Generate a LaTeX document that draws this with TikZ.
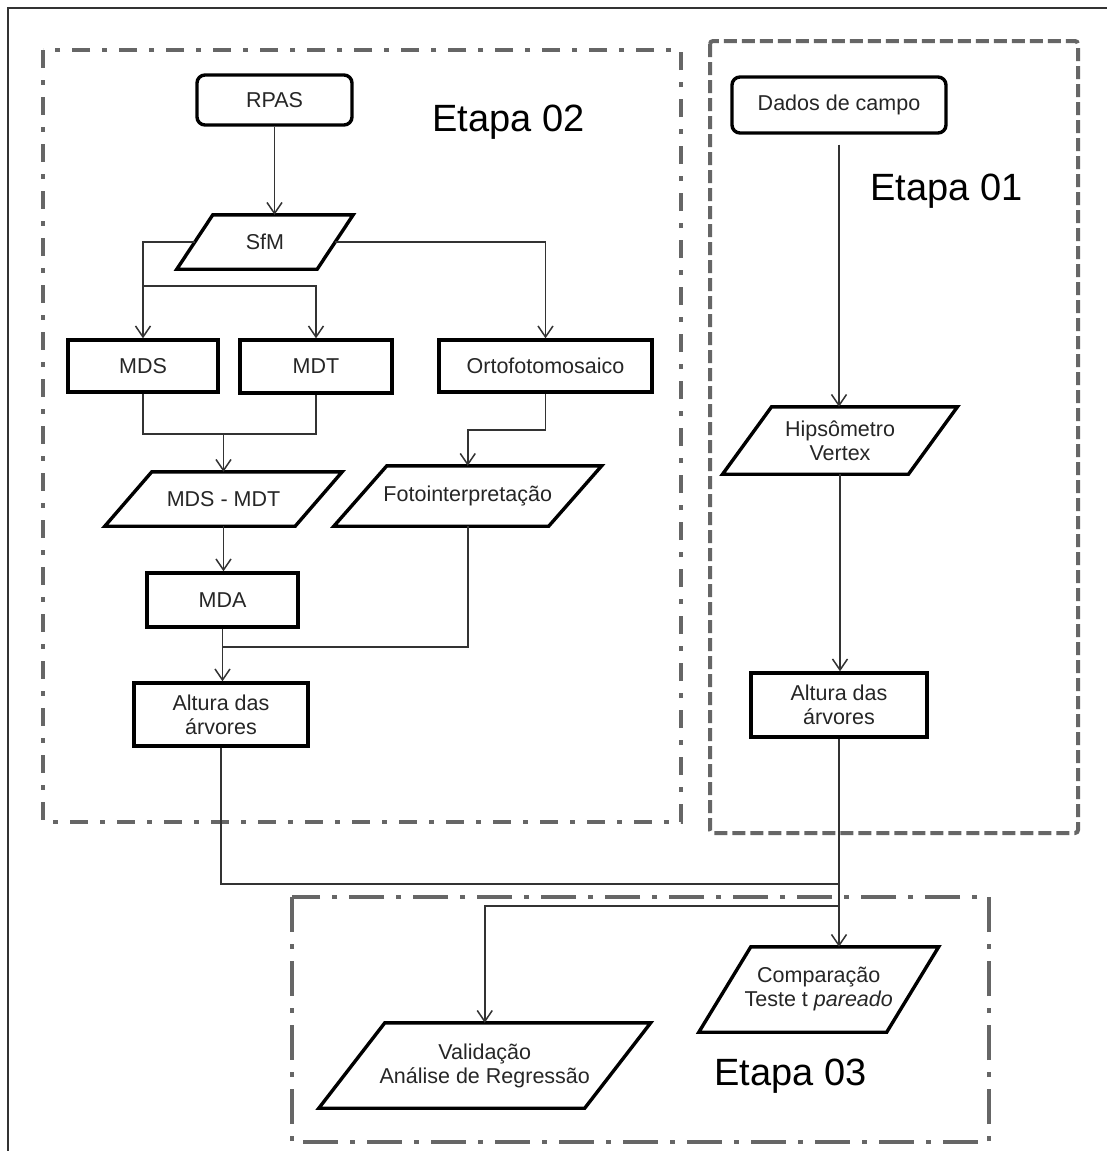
\documentclass[tikz,border=0pt]{standalone}
\usepackage{fontspec}
\setmainfont{Liberation Sans}
\usetikzlibrary{arrows.meta}
\begin{document}
\begin{tikzpicture}[x=1pt,y=-1pt,
  txt/.style={font=\fontsize{21.5}{24}\selectfont, text=black!85, align=center, inner sep=0pt},
  procbox/.style={txt, draw=black, line width=3.4pt, rectangle},
  roundbox/.style={procbox, rounded corners=8pt},
  paran/.style={txt, rectangle},
  parab/.style={draw=black, line width=3.4pt, line join=miter},
  conn/.style={draw=black!80, line width=1.5pt},
  arr/.style={conn, -{Straight Barb[length=11pt,width=15pt]}},
  etapa/.style={font=\fontsize{38}{40}\selectfont, anchor=base west, inner sep=0pt, text=black},
  frameA/.style={draw=black!60, line width=4pt, dash pattern=on 18pt off 12pt on 5pt off 12pt},
  frameB/.style={draw=black!60, line width=4pt, dash pattern=on 13pt off 5pt},
  frameC/.style={draw=black!60, line width=4pt, dash pattern=on 35pt off 12pt on 5pt off 12pt}
]
\useasboundingbox (0,0) rectangle (1107,1151);
\fill[white] (0,0) rectangle (1107,1151);

% outer frame
\draw[black!80, line width=2pt] (8,1170) -- (8,8) -- (1120,8);

% stage frames
\draw[frameA] (43,50) rectangle (681,822);
\draw[frameB, rounded corners=3pt] (710,41) rectangle (1078,833);
\draw[frameC] (292,897) rectangle (989,1142);

% stage labels
\node[etapa] (e2) at (432,131) {Etapa 02};
\node[etapa] (e1) at (870,200) {Etapa 01};
\node[etapa] (e3) at (714,1085) {Etapa 03};

% nodes
\node[roundbox, minimum width=155pt, minimum height=50pt] (rpas) at (274.5,100) {RPAS};
\node[roundbox, minimum width=214pt, minimum height=56pt] (dados) at (839,105) {Dados de campo};
\node[paran, minimum width=140pt, minimum height=54pt] (sfm) at (265,242) {SfM};
\node[procbox, minimum width=150pt, minimum height=52pt] (mds) at (143,366) {MDS};
\node[procbox, minimum width=152pt, minimum height=53pt] (mdt) at (316,366.5) {MDT};
\node[procbox, minimum width=213pt, minimum height=52pt] (orto) at (545.5,366) {Ortofotomosaico};
\node[paran, minimum width=190pt, minimum height=54pt] (mdsmdt) at (223.5,499) {MDS - MDT};
\node[paran, minimum width=214.5pt, minimum height=60pt] (foto) at (467.75,496) {Fotointerpretação};
\node[procbox, minimum width=151pt, minimum height=54pt] (mda) at (222.5,600) {MDA};
\node[procbox, minimum width=174pt, minimum height=63pt] (altl) at (221,714.5) {Altura das\\árvores};
\node[paran, minimum width=185.5pt, minimum height=67pt] (hipso) at (840,440.5) {Hipsômetro\\Vertex};
\node[procbox, minimum width=176pt, minimum height=64pt] (altr) at (839,705) {Altura das\\árvores};
\node[paran, minimum width=187.5pt, minimum height=85pt] (comp) at (818.75,989.5) {Comparação\\Teste t \textit{pareado}};
\node[paran, minimum width=265.5pt, minimum height=85pt] (valid) at (484.75,1065.5) {Validação\\Análise de Regressão};

% parallelogram outlines
\foreach \n/\s in {sfm/18, mdsmdt/23.5, foto/26.5, hipso/24.5, comp/26, valid/33}{
  \draw[parab] ([xshift=-\s pt]\n.south west) -- ([xshift=-\s pt]\n.south east)
     -- ([xshift=\s pt]\n.north east) -- ([xshift=\s pt]\n.north west) -- cycle;
}

% connectors
\draw[arr] (rpas.south) -- (rpas.south |- sfm.north);
\draw[arr] (sfm.west) -| (mds.north);
\coordinate (b1) at (143,286);
\draw[arr] (b1) -| (mdt.north);
\draw[arr] (sfm.east) -| (orto.north);
\coordinate (j1) at (223.5,434);
\draw[conn] (mds.south) |- (j1) -| (mdt.south);
\draw[arr] (j1) -- (mdsmdt.north);
\coordinate (j2) at (467.75,430);
\draw[arr] (orto.south) |- (j2) -- (foto.north);
\draw[arr] (mdsmdt.south) -- (mdsmdt.south |- mda.north);
\coordinate (j3) at (222.5,647);
\draw[conn] (foto.south) |- (j3);
\draw[arr] (mda.south) -- (mda.south |- altl.north);
\coordinate (j4) at (839,884);
\draw[conn] (altl.south) |- (j4);
\draw[arr, shorten <=10pt] (dados.south) -- (dados.south |- hipso.north);
\draw[arr] (hipso.south) -- (hipso.south |- altr.north);
\draw[arr] (altr.south) -- (altr.south |- comp.north);
\coordinate (j5) at (839,906);
\draw[arr] (j5) -| (valid.north);
\end{tikzpicture}
\end{document}
